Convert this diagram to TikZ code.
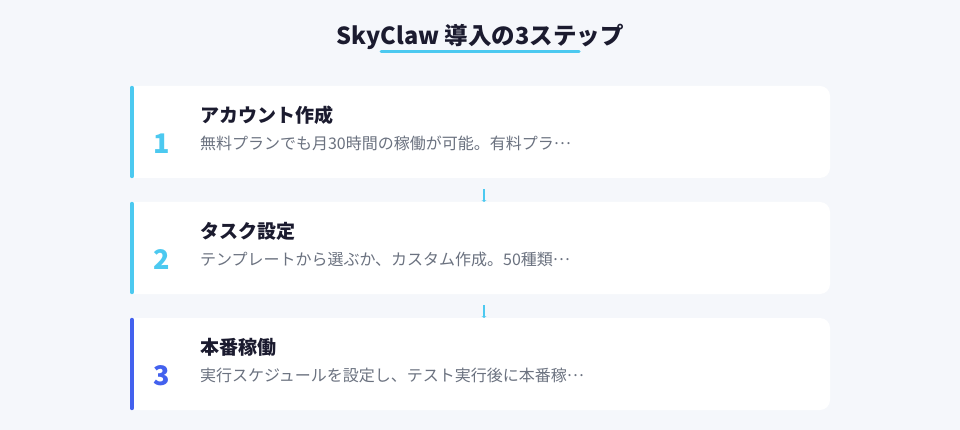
\documentclass[tikz,border=0pt]{standalone}
\usepackage{fontspec}
\setmainfont{Noto Sans CJK JP}
\usepackage{tikz}
\usetikzlibrary{arrows.meta,positioning}
\definecolor{pagebg}{HTML}{F5F7FB}
\definecolor{skycyan}{HTML}{4CC9F0}
\definecolor{skyblue}{HTML}{4361EE}
\definecolor{inkdark}{HTML}{1B1B2F}
\definecolor{inkgray}{HTML}{6B7280}
\newcommand{\ellip}{\raisebox{0.3em}{…}}
\tikzstyle{card} = [rectangle, fill=white, rounded corners=10pt,
   minimum width=700pt, minimum height=92pt, inner sep=0pt]
\tikzstyle{bar} = [line width=4pt, line cap=round]
\tikzstyle{stepnum} = [font=\fontsize{27}{30}\selectfont\bfseries, inner sep=0pt]
\tikzstyle{steptitle} = [font=\fontsize{19}{22}\selectfont\bfseries, text=inkdark, anchor=west, inner sep=0pt]
\tikzstyle{stepdesc} = [font=\fontsize{16}{19}\selectfont, text=inkgray, anchor=west, inner sep=0pt]
\tikzstyle{link} = [-{Stealth[length=1.5pt,width=5pt]}, draw=skycyan, line width=1.8pt, shorten <=11pt]

\begin{document}
\begin{tikzpicture}[x=1pt,y=-1pt,node distance=116pt]

\fill[pagebg] (0,0) rectangle (960,430);
\useasboundingbox (0,0) rectangle (960,430);

% heading
\node (head) [font=\fontsize{23.5}{28}\selectfont\bfseries, text=inkdark] at (480,37) {SkyClaw 導入の3ステップ};
\draw [skycyan, line width=3pt, line cap=round] (381,52) -- (579,52);

% cards
\node (card1) [card] at (480,132) {};
\node (card2) [card, below of=card1] {};
\node (card3) [card, below of=card2] {};

\foreach \c/\col in {card1/skycyan, card2/skycyan, card3/skyblue} {
  \fill [white] (\c.north west) rectangle ([xshift=14pt]\c.south west);
  \draw [bar, \col] ([xshift=2pt,yshift=-2pt]\c.north west) -- ([xshift=2pt,yshift=2pt]\c.south west);
}

% connectors
\draw [link] ([xshift=4pt]card1.south) -- ([xshift=4pt]card2.north);
\draw [link] ([xshift=4pt]card2.south) -- ([xshift=4pt]card3.north);

% step 1
\node (n1) [stepnum, text=skycyan] at ([xshift=32pt,yshift=-12pt]card1.west) {1};
\node (t1) [steptitle] at ([xshift=70pt,yshift=17pt]card1.west) {アカウント作成};
\node (d1) [stepdesc] at ([xshift=70pt,yshift=-11pt]card1.west) {無料プランでも月30時間の稼働が可能。有料プラ\ellip};

% step 2
\node (n2) [stepnum, text=skycyan] at ([xshift=32pt,yshift=-12pt]card2.west) {2};
\node (t2) [steptitle] at ([xshift=70pt,yshift=17pt]card2.west) {タスク設定};
\node (d2) [stepdesc] at ([xshift=70pt,yshift=-11pt]card2.west) {テンプレートから選ぶか、カスタム作成。50種類\ellip};

% step 3
\node (n3) [stepnum, text=skyblue] at ([xshift=32pt,yshift=-12pt]card3.west) {3};
\node (t3) [steptitle] at ([xshift=70pt,yshift=17pt]card3.west) {本番稼働};
\node (d3) [stepdesc] at ([xshift=70pt,yshift=-11pt]card3.west) {実行スケジュールを設定し、テスト実行後に本番稼\ellip};

\end{tikzpicture}
\end{document}
